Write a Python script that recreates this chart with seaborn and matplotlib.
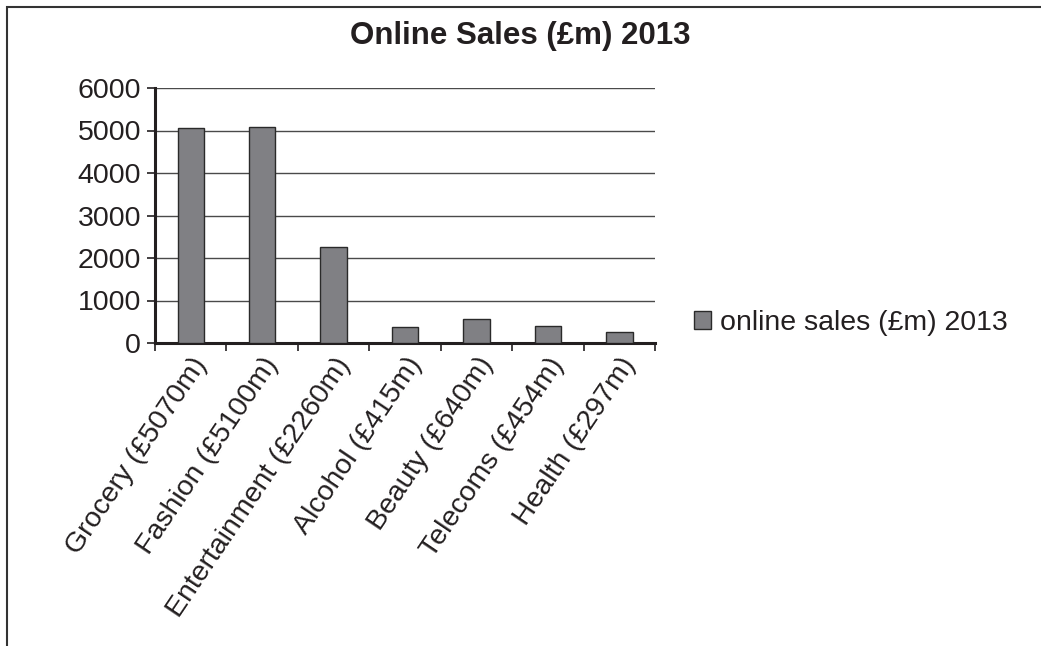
import matplotlib
matplotlib.use("Agg")
import matplotlib.pyplot as plt
from matplotlib.patches import Rectangle, Patch
import seaborn as sns
import pandas as pd
import numpy as np

categories = ["Grocery (£5070m)", "Fashion (£5100m)", "Entertainment (£2260m)",
              "Alcohol (£415m)", "Beauty (£640m)", "Telecoms (£454m)", "Health (£297m)"]
values = [5070, 5080, 2260, 370, 555, 405, 260]
series_name = "online sales (£m) 2013"
title = "Online Sales (£m) 2013"
yticks = [0, 1000, 2000, 3000, 4000, 5000, 6000]

sns.set_style("white")
plt.rcParams['font.family'] = ['Liberation Sans', 'DejaVu Sans']

df = pd.DataFrame({"cat": categories, "val": values})

fig = plt.figure(figsize=(10.41, 6.46), dpi=100)
ax = fig.add_axes([155/1041, 1-343/646, 500/1041, 255/646])

sns.barplot(data=df, x="cat", y="val", ax=ax, color="#808084", width=0.37,
            edgecolor="#2a2a2a", linewidth=1.0, saturation=1, zorder=3)

ax.set_ylim(0, 6000)
ax.set_xlim(-0.5, len(categories) - 0.5)
ax.set_yticks(yticks)
ax.set_yticklabels([str(t) for t in yticks], fontsize=20.5, color="#231f20")
ax.yaxis.grid(True, color="#4a4a4a", linewidth=1.0, zorder=0)
ax.set_axisbelow(True)
ax.set_xlabel("")
ax.set_ylabel("")

for s in ["top", "right"]:
    ax.spines[s].set_visible(False)
for s in ["left", "bottom"]:
    ax.spines[s].set_visible(True)
    ax.spines[s].set_color("#231f20")
    ax.spines[s].set_linewidth(2.2)

ax.tick_params(axis="y", which="major", left=True, length=6, width=1.2, color="#231f20", pad=4)
ax.set_xticks(range(len(categories)))
ax.set_xticklabels(categories, rotation=56, ha="right", rotation_mode="anchor",
                   fontsize=20.5, color="#231f20")
ax.tick_params(axis="x", which="major", bottom=False, length=0, pad=7)
ax.set_xticks(np.arange(-0.5, len(categories), 1.0), minor=True)
ax.tick_params(axis="x", which="minor", bottom=True, length=6, width=1.2, color="#231f20")

fig.text(520/1041, 1-36/646, title, ha="center", va="center", fontsize=22.5,
         fontweight="bold", color="#231f20")

handle = Patch(facecolor="#808084", edgecolor="#2a2a2a", linewidth=1.0)
fig.legend([handle], [series_name], loc="center left",
           bbox_to_anchor=(694/1041, 1-323/646), frameon=False, fontsize=20.5,
           handlelength=0.6, handleheight=0.6, handletextpad=0.3,
           borderpad=0, borderaxespad=0, labelcolor="#231f20")

fig.patches.append(Rectangle((7/1041, -0.1), 1.2, 1.1 - 7/646, transform=fig.transFigure,
                             fill=False, edgecolor="#333333", linewidth=1.5, zorder=10))

fig.savefig("out.png", dpi=100, facecolor="white")
